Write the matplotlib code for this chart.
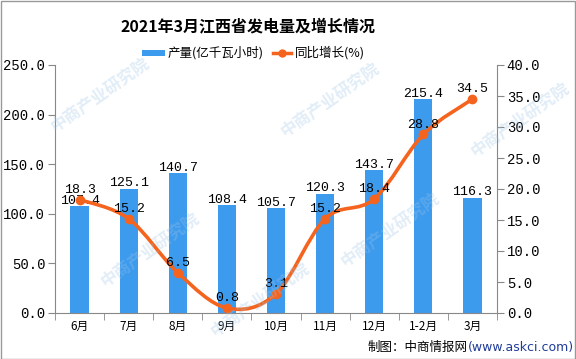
import matplotlib
matplotlib.use("Agg")
import matplotlib.pyplot as plt
from matplotlib.path import Path
from matplotlib.patches import PathPatch, Rectangle
import numpy as np

plt.rcParams['font.family'] = ['Noto Sans CJK SC', 'DejaVu Sans']

categories = ["6月", "7月", "8月", "9月", "10月", "11月", "12月", "1-2月", "3月"]
output = [107.4, 125.1, 140.7, 108.4, 105.7, 120.3, 143.7, 215.4, 116.3]
growth = [18.3, 15.2, 6.5, 0.8, 3.1, 15.2, 18.4, 28.8, 34.5]
left_ticks = [0, 50, 100, 150, 200, 250]
right_ticks = [0, 5, 10, 15, 20, 25, 30, 35, 40]

BAR = "#3D9BEE"
LINE = "#F5641E"
MONO = "Liberation Mono"

fig = plt.figure(figsize=(5.76, 3.59), dpi=100)
ax = fig.add_axes([55/576, 1-313/359, (497-55)/576, (313-65)/359])
ax2 = ax.twinx()

x = np.arange(len(categories))
ax.bar(x, output, width=0.37, color=BAR, zorder=2)
ax.set_xlim(-0.5, len(categories)-0.5)
ax.set_ylim(0, 250)
ax.set_yticks(left_ticks)
ax.set_yticklabels([f"{v:.1f}" for v in left_ticks], fontfamily=MONO, fontsize=10)
ax.set_xticks(x)
ax.set_xticklabels(categories, fontsize=8.5)
ax.set_xticks(np.arange(len(categories)+1)-0.5, minor=True)
ax.tick_params(axis='x', which='major', length=0, pad=5)
ax.tick_params(axis='x', which='minor', length=5, color='#888888')
ax.tick_params(axis='y', length=5, color='#888888', pad=2)

ax2.set_ylim(0, 40)
ax2.set_yticks(right_ticks)
ax2.set_yticklabels([f"{v:.1f}" for v in right_ticks], fontfamily=MONO, fontsize=10)
ax2.tick_params(axis='y', length=5, color='#888888', pad=2)

for a in (ax, ax2):
    a.spines['top'].set_visible(False)
    for s in ('left', 'right', 'bottom'):
        a.spines[s].set_color('#888888')
ax.spines['right'].set_visible(False)
ax2.spines['left'].set_visible(False)
ax2.spines['bottom'].set_visible(False)

# smooth line (Catmull-Rom bezier through the data points)
pts = np.column_stack([x, growth]).astype(float)
verts = [tuple(pts[0])]
codes = [Path.MOVETO]
n = len(pts)
for i in range(n-1):
    p0 = pts[i-1] if i > 0 else pts[i]
    p1 = pts[i]
    p2 = pts[i+1]
    p3 = pts[i+2] if i+2 < n else pts[i+1]
    c1 = p1 + (p2 - p0) / 6.0
    c2 = p2 - (p3 - p1) / 6.0
    verts += [tuple(c1), tuple(c2), tuple(p2)]
    codes += [Path.CURVE4]*3
ax2.add_patch(PathPatch(Path(verts, codes), facecolor='none', edgecolor=LINE, lw=2.6, zorder=3))
ax2.plot(x, growth, linestyle='none', marker='o', ms=6, color=LINE, zorder=4)

for xi, v in zip(x, output):
    ax.annotate(f"{v:.1f}", (xi, v), xytext=(0, 4), textcoords='offset points',
                ha='center', va='center', fontfamily=MONO, fontsize=9.5, zorder=5)
for xi, v in zip(x, growth):
    ax2.annotate(f"{v:.1f}", (xi, v), xytext=(0, 7), textcoords='offset points',
                 ha='center', va='center', fontfamily=MONO, fontsize=9.5, zorder=5)

# watermarks (kept inside the figure)
wm_pos = [(100, 95), (330, 100), (520, 120), (150, 250), (390, 230), (260, 300)]
for (wx, wy) in wm_pos:
    fig.text(wx/576, 1-wy/359, "中商产业研究院", rotation=35, fontsize=12, color='#9CC3E6',
             alpha=0.3, ha='center', va='center', fontweight='bold', zorder=0)

fig.text(248/576, 1-26/359, "2021年3月江西省发电量及增长情况", ha='center', va='center',
         fontsize=11.5, fontweight='bold')

# legend
ly = 1-53/359
fig.patches.append(Rectangle((142/576, ly-3/359), 23/576, 6/359, transform=fig.transFigure,
                             facecolor=BAR, edgecolor='none'))
fig.text(168/576, ly, "产量(亿千瓦小时)", ha='left', va='center', fontsize=9)
fig.lines.append(plt.Line2D([273/576, 291/576], [ly, ly], transform=fig.transFigure,
                            color=LINE, lw=2.5))
fig.lines.append(plt.Line2D([282/576], [ly], transform=fig.transFigure, color=LINE,
                            marker='o', ms=5))
fig.text(295/576, ly, "同比增长(%)", ha='left', va='center', fontsize=9)

# footer
fig.text(468/576, 1-347/359, "制图：中商情报网", ha='right', va='center', fontsize=9)
fig.text(468/576, 1-347/359, "(www.askci.com)", ha='left', va='center', fontsize=9,
         color='#1F3C99', fontfamily='DejaVu Sans')

fig.patches.append(Rectangle((0.5/576, 0.5/359), 1-1.5/576, 1-1.5/359, transform=fig.transFigure,
                             facecolor='none', edgecolor='#999999', lw=1))

fig.savefig("out.png", dpi=100)
